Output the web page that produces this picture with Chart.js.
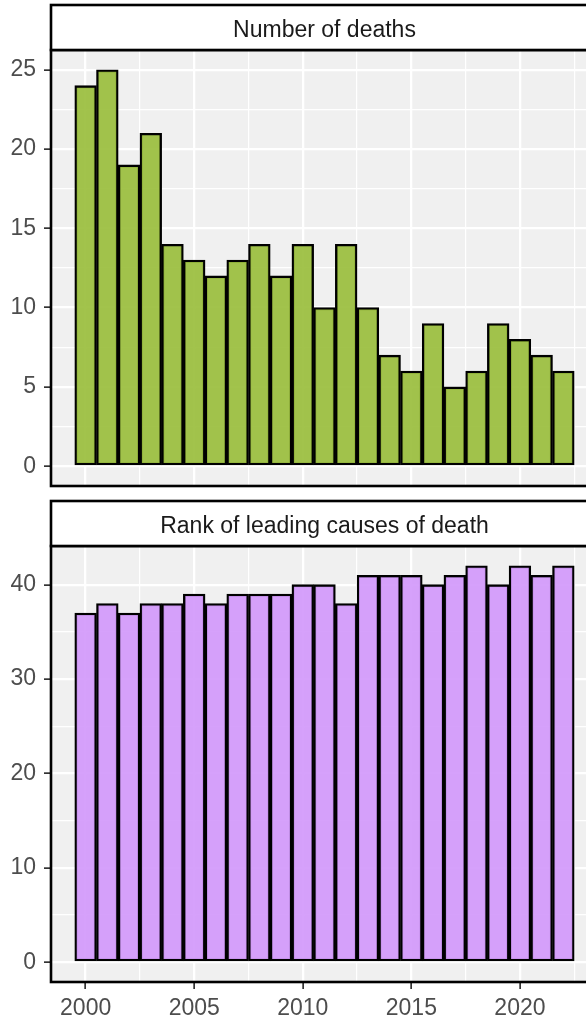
<!DOCTYPE html>
<html>
<head>
<meta charset="utf-8">
<script src="https://cdn.jsdelivr.net/npm/chart.js@4.4.1/dist/chart.umd.min.js"></script>
<style>
  html, body { margin: 0; padding: 0; background: #fff; overflow: hidden; width: 586px; height: 1018px; }
  canvas { position: absolute; left: 0; }
  #deaths { top: 0; }
  #rank { top: 496px; }
</style>
</head>
<body>
<canvas id="deaths" width="600" height="510"></canvas>
<canvas id="rank" width="600" height="522"></canvas>
<script>
// data
const years = [2000, 2001, 2002, 2003, 2004, 2005, 2006, 2007, 2008, 2009, 2010, 2011,
               2012, 2013, 2014, 2015, 2016, 2017, 2018, 2019, 2020, 2021, 2022];
const deaths = [24, 25, 19, 21, 14, 13, 12, 13, 14, 12, 14, 10, 14, 10, 7, 6, 9, 5, 6, 9, 8, 7, 6];
const ranks = [37, 38, 37, 38, 38, 39, 38, 39, 39, 39, 40, 40, 38, 41, 41, 41, 40, 41, 42, 40, 42, 41, 42];

// tick labels / grid breaks
const xMajor = [2000, 2005, 2010, 2015, 2020];
const xMinor = [2002.5, 2007.5, 2012.5, 2017.5, 2022.5];
const deathMajor = [0, 5, 10, 15, 20, 25];
const deathMinor = [2.5, 7.5, 12.5, 17.5, 22.5];
const rankMajor = [0, 10, 20, 30, 40];
const rankMinor = [5, 15, 25, 35];

const FONT = "'Liberation Sans', Arial, Helvetica, sans-serif";

const facetPlugin = {
  id: 'facet',
  beforeDraw(chart) {
    const { ctx, chartArea: a } = chart;
    ctx.save();
    ctx.fillStyle = '#F0F0F0';
    ctx.fillRect(a.left, a.top, a.right - a.left, a.bottom - a.top);
    ctx.restore();
  },
  afterDraw(chart, args, opts) {
    const { ctx, chartArea: a } = chart;
    ctx.save();
    ctx.lineWidth = 2.6;
    ctx.strokeStyle = '#000';
    ctx.strokeRect(a.left, a.top, a.right - a.left, a.bottom - a.top);
    // strip
    const top = a.top - 45;
    ctx.fillStyle = '#fff';
    ctx.fillRect(a.left, top, a.right - a.left, 45);
    ctx.strokeRect(a.left, top, a.right - a.left, 45);
    ctx.fillStyle = '#1A1A1A';
    ctx.font = '23px ' + FONT;
    ctx.textAlign = 'center';
    ctx.textBaseline = 'alphabetic';
    ctx.fillText(opts.label, (a.left + a.right) / 2, top + 31.5);
    ctx.restore();
  }
};

function sorted(a, b) { return a.concat(b).sort((p, q) => p - q); }

function yScale(min, max, major, minor) {
  const all = sorted(major, minor);
  return {
    type: 'linear', min: min, max: max,
    afterBuildTicks: s => { s.ticks = all.map(v => ({ value: v })); },
    afterFit: s => { s.width = 51; },
    border: { display: false },
    grid: {
      color: '#fff',
      lineWidth: c => major.includes(c.tick.value) ? 2.3 : 1.2,
      tickColor: c => major.includes(c.tick.value) ? '#333' : 'rgba(0,0,0,0)',
      tickLength: 7,
      tickWidth: 1.7
    },
    ticks: {
      autoSkip: false,
      padding: 8,
      color: '#4D4D4D',
      font: { family: FONT, size: 23 },
      callback: v => major.includes(v) ? String(v) : ''
    }
  };
}

function xScale(showLabels) {
  const all = sorted(xMajor, xMinor);
  return {
    type: 'linear', min: 1998.405, max: 2023.595, offset: false,
    afterBuildTicks: s => { s.ticks = all.map(v => ({ value: v })); },
    afterFit: s => { s.height = showLabels ? 36 : 0; },
    border: { display: false },
    grid: {
      offset: false,
      color: '#fff',
      lineWidth: c => xMajor.includes(c.tick.value) ? 2.3 : 1.2,
      drawTicks: showLabels,
      tickColor: c => xMajor.includes(c.tick.value) ? '#333' : 'rgba(0,0,0,0)',
      tickLength: 7,
      tickWidth: 1.7
    },
    ticks: {
      display: showLabels,
      autoSkip: false,
      maxRotation: 0,
      padding: 6,
      color: '#4D4D4D',
      font: { family: FONT, size: 23 },
      callback: v => xMajor.includes(v) ? String(v) : ''
    }
  };
}

function makeChart(id, values, fill, label, yMin, yMax, major, minor, showX, padBottom) {
  return new Chart(document.getElementById(id), {
    type: 'bar',
    data: {
      datasets: [{
        data: years.map((y, i) => ({ x: y, y: values[i] })),
        backgroundColor: fill,
        borderColor: '#000',
        borderWidth: 2.3,
        borderSkipped: false,
        barPercentage: 1.0,
        categoryPercentage: 1.0
      }]
    },
    options: {
      responsive: false,
      animation: false,
      devicePixelRatio: 1,
      layout: { padding: { top: 50, right: 2, bottom: padBottom, left: 0 } },
      plugins: {
        legend: { display: false },
        tooltip: { enabled: false },
        facet: { label: label }
      },
      scales: {
        x: xScale(showX),
        y: yScale(yMin, yMax, major, minor)
      }
    },
    plugins: [facetPlugin]
  });
}

makeChart('deaths', deaths, 'rgba(152,189,56,0.9)', 'Number of deaths',
  -1.25, 26.25, deathMajor, deathMinor, false, 24);
makeChart('rank', ranks, 'rgba(210,151,251,0.9)', 'Rank of leading causes of death',
  -2.1, 44.1, rankMajor, rankMinor, true, 0);
</script>
</body>
</html>
